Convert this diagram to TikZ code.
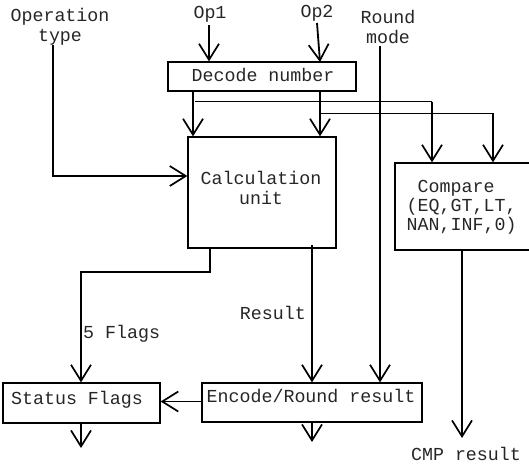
\documentclass[tikz,border=0pt]{standalone}
\usepackage{fontspec}
\newfontfamily\diagfont{Liberation Mono}
\usetikzlibrary{arrows.meta}
\begin{document}
\begin{tikzpicture}[x=1pt,y=-1pt,
  every node/.style={font=\diagfont\fontsize{18.3}{20}\selectfont, inner sep=0pt, text=black!85},
  blk/.style={draw, line width=1.3pt, minimum width=#1},
  txt/.style={align=center},
  tip/.style={-{Straight Barb[length=16pt,width=20pt,line width=1.7pt]}},
  bus/.style={tip, line width=1.8pt},
  wire/.style={line width=1.2pt},
  thin/.style={line width=1pt}]
\useasboundingbox (0,0) rectangle (529,464);

% blocks
\node[blk=188pt, minimum height=29pt] (dec) at (262,76.5) {};
\node[blk=148pt, minimum height=111pt] (calc) at (262,192.5) {};
\node[blk=140pt, minimum height=87pt] (cmp) at (465,206.5) {};
\node[blk=157pt, minimum height=40pt] (stat) at (81.5,403) {};
\node[blk=220pt, minimum height=39pt] (enc) at (312,402.5) {};

% block texts
\node (dect) at (263,75) {Decode number};
\node[txt] (calct) at (261,188) {Calculation\\unit};
\node[align=left, anchor=west, font=\diagfont\fontsize{18.3}{19}\selectfont] (cmpt) at (406.5,207) {\hspace*{11pt}Compare\\(EQ,GT,LT,\\NAN,INF,0)};
\node (statt) at (77,400) {Status Flags};
\node (enct) at (311,396) {Encode/Round result};

% inputs and outputs
\node (op1) at (210,14) {Op1};
\node (op2) at (317,13) {Op2};
\node[txt] (optype) at (60,27) {Operation\\type};
\node[txt] (rmode) at (388,27) {Round\\mode};
\node (cmpres) at (466,454) {CMP result};
\node[anchor=west] (flags) at (83,334) {5 Flags};
\node[anchor=east] (res) at (306,313) {Result};

% operands into the decoder
\coordinate (op1s) at (209,25);
\coordinate (op2s) at (317,23);
\draw[bus] (op1s) -- (op1s |- dec.north);
\draw[bus] (op2s) -- (320,62);

% decoder to calculation unit
\coordinate (da) at (193,91);
\coordinate (db) at (320,91);
\draw[bus] (da) -- (da |- calc.north);
\draw[bus] (db) -- (db |- calc.north);

% decoder to comparator
\coordinate (ba) at (195,101.5);
\coordinate (bb) at (320,113);
\coordinate (ca) at (432,101.5);
\coordinate (cb) at (493,113);
\draw[thin] (ba) -- (ca);
\draw[thin] (bb) -- (cb);
\draw[tip, line width=1.2pt] (ca) -- (ca |- cmp.north);
\draw[tip, line width=1.2pt] (cb) -- (cb |- cmp.north);

% operation type
\coordinate (ot) at (53,45);
\draw[wire, tip] (ot) -- (53,176) -- (53,176 -| calc.west);

% round mode
\coordinate (rm) at (380,46);
\draw[wire, tip] (rm) -- (rm |- enc.north);

% calculation outputs
\coordinate (cf) at (210,248);
\draw[wire, tip] (cf) -- (210,272) -- (81,272) -- (81,272 |- stat.north);
\coordinate (cr) at (312,245);
\draw[bus] (cr) -- (cr |- enc.north);

% encoder to status flags
\draw[wire, tip] (enc.west |- 0,401.5) -- (stat.east |- 0,401.5);

% outputs
\coordinate (so) at (81,423);
\draw[bus] (so) -- (81,448);
\coordinate (eo) at (312,422);
\draw[bus] (eo) -- (312,442);
\coordinate (co) at (462,250);
\draw[bus] (co) -- (462,438);
\end{tikzpicture}
\end{document}
